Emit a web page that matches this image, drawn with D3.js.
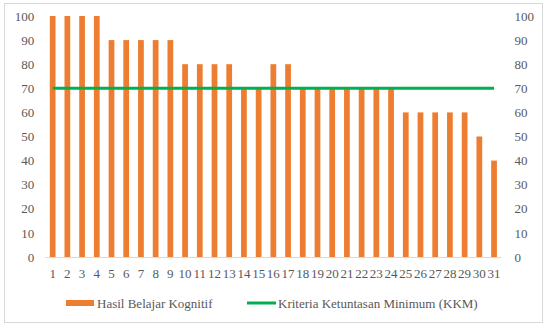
<!DOCTYPE html>
<meta charset="utf-8">
<title>Hasil Belajar Kognitif</title>
<style>
  body { margin: 0; background: #fff; }
  svg text { font-family: "Liberation Serif", "Times New Roman", serif; }
  .tick text { fill: #595959; font-size: 13px; }
</style>
<body>
<div id="chart"></div>
<script src="https://cdn.jsdelivr.net/npm/d3@7"></script>
<script>
// data
const students = d3.range(1, 32).map(String);
const scores = [100, 100, 100, 100, 90, 90, 90, 90, 90, 80, 80, 80, 80, 70, 70,
                80, 80, 70, 70, 70, 70, 70, 70, 70, 60, 60, 60, 60, 60, 50, 40];
const kkm = students.map(() => 70);
const yTicks = [0, 10, 20, 30, 40, 50, 60, 70, 80, 90, 100];
const seriesNames = ["Hasil Belajar Kognitif", "Kriteria Ketuntasan Minimum (KKM)"];

const W = 549, H = 332;
const plot = {left: 45.3, right: 501.4, top: 16, bottom: 257};

const svg = d3.select("#chart").append("svg")
    .attr("width", W)
    .attr("height", H);

// chart frame
svg.append("rect")
    .attr("x", 4.5).attr("y", 3.5)
    .attr("width", 538).attr("height", 319)
    .attr("fill", "#fff")
    .attr("stroke", "#d9d9d9");

const x = d3.scaleBand()
    .domain(students)
    .range([plot.left, plot.right])
    .paddingInner(0.61)
    .paddingOuter(0.305);

const y = d3.scaleLinear()
    .domain([0, 100])
    .range([plot.bottom, plot.top]);

// left axis
svg.append("g")
    .attr("transform", "translate(" + (plot.left - 7) + ",0)")
    .call(d3.axisLeft(y).tickValues(yTicks).tickSize(0).tickPadding(4))
    .call(g => g.select(".domain").remove());

// right axis
svg.append("g")
    .attr("transform", "translate(" + (plot.right + 9) + ",0)")
    .call(d3.axisRight(y).tickValues(yTicks).tickSize(0).tickPadding(4))
    .call(g => g.select(".domain").remove());

// bars
svg.append("g").selectAll("rect")
    .data(scores)
  .enter().append("rect")
    .attr("x", (d, i) => x(students[i]))
    .attr("y", d => y(d))
    .attr("width", x.bandwidth())
    .attr("height", d => y(0) - y(d))
    .attr("fill", "#ed7d31");

// baseline
svg.append("line")
    .attr("x1", plot.left).attr("x2", plot.right)
    .attr("y1", y(0) + 0.5).attr("y2", y(0) + 0.5)
    .attr("stroke", "#d9d9d9");

// x axis labels
svg.append("g")
    .attr("transform", "translate(0," + (plot.bottom + 8) + ")")
    .call(d3.axisBottom(x).tickSize(0).tickPadding(4))
    .call(g => g.select(".domain").remove());

// KKM line
svg.append("path")
    .datum(kkm)
    .attr("fill", "none")
    .attr("stroke", "#00b050")
    .attr("stroke-width", 3)
    .attr("d", d3.line()
      .x((d, i) => x(students[i]) + x.bandwidth() / 2)
      .y(d => y(d)));

// legend
const leg = svg.append("g").attr("transform", "translate(0,303)");
leg.append("rect")
    .attr("x", 66).attr("y", -3)
    .attr("width", 28).attr("height", 6)
    .attr("fill", "#ed7d31");
leg.append("text")
    .attr("x", 97).attr("y", 4.5)
    .attr("fill", "#595959")
    .style("font-size", "13px")
    .text(seriesNames[0]);
leg.append("line")
    .attr("x1", 247).attr("x2", 276)
    .attr("y1", 0).attr("y2", 0)
    .attr("stroke", "#00b050")
    .attr("stroke-width", 3);
leg.append("text")
    .attr("x", 278).attr("y", 4.5)
    .attr("fill", "#595959")
    .style("font-size", "13px")
    .text(seriesNames[1]);
</script>
</body>
